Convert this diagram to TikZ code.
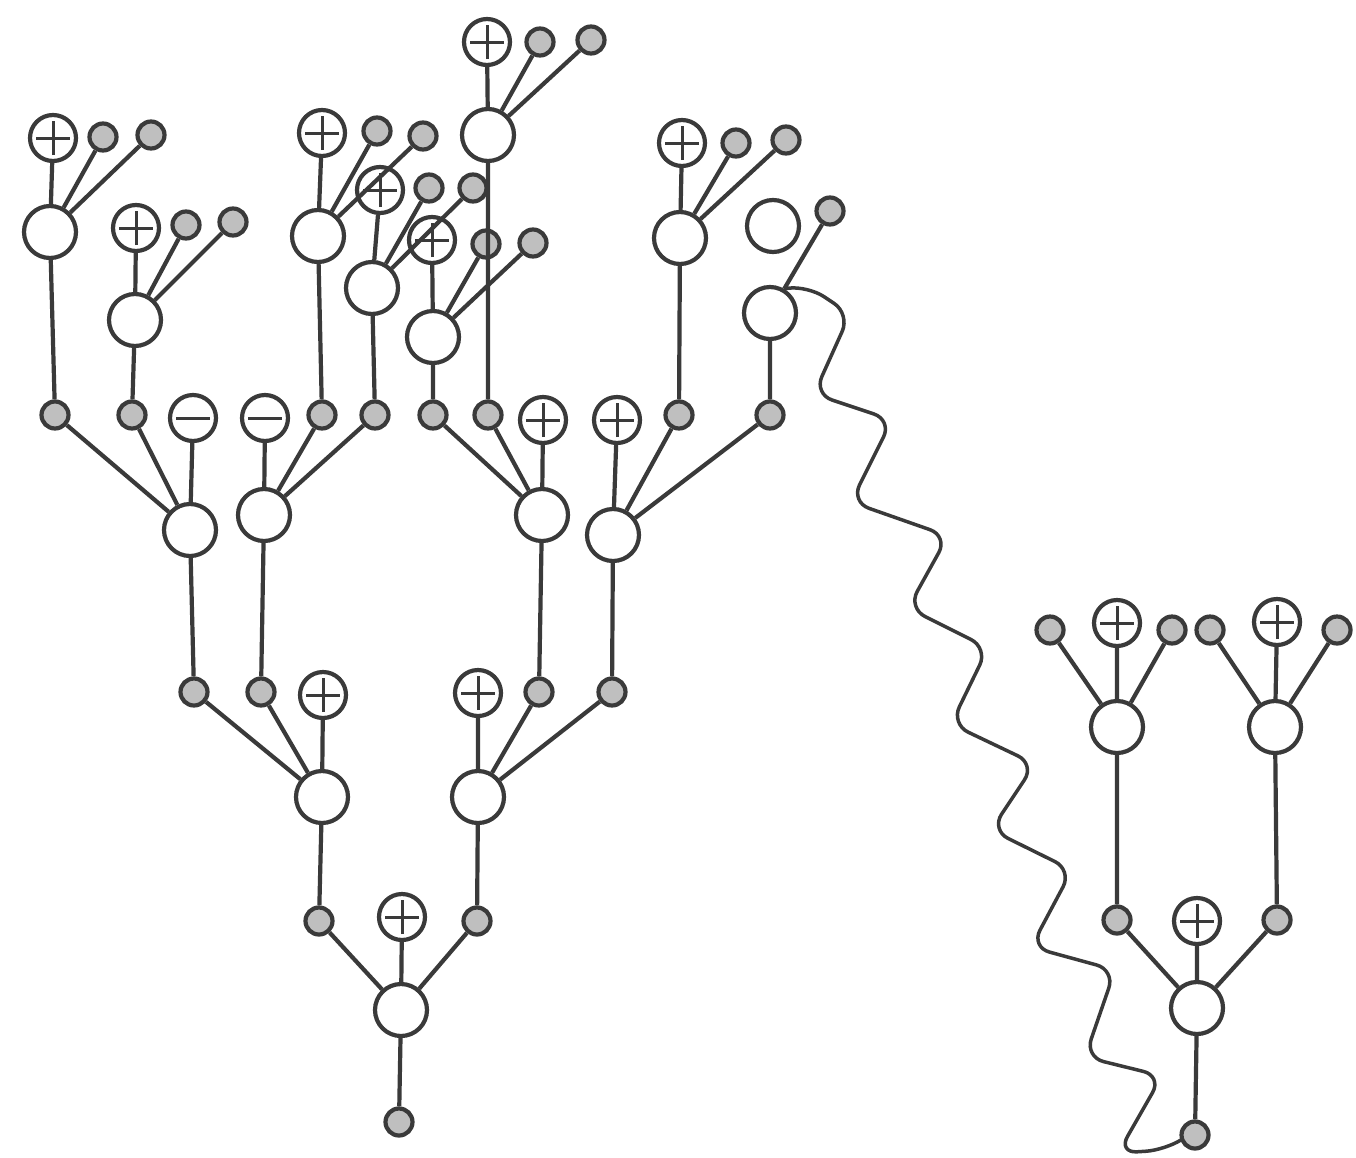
\documentclass[tikz,border=0pt]{standalone}
\definecolor{lc}{RGB}{58,58,58}
\begin{document}
\begin{tikzpicture}[x=1pt,y=-1pt,
  ln/.style={draw=lc,line width=4.2pt},
  bigc/.style={circle,draw=lc,fill=white,line width=4.2pt,minimum size=52pt,inner sep=0pt},
  smc/.style={circle,draw=lc,fill=black!25,line width=4.2pt,minimum size=27pt,inner sep=0pt},
  plc/.style={circle,draw=lc,fill=white,line width=4.2pt,minimum size=46pt,inner sep=0pt,
    path picture={\draw[lc,line width=3pt]
      ([xshift=-17pt]path picture bounding box.center) -- ([xshift=17pt]path picture bounding box.center)
      ([yshift=-17pt]path picture bounding box.center) -- ([yshift=17pt]path picture bounding box.center);}},
  mnc/.style={circle,draw=lc,fill=white,line width=4.2pt,minimum size=46pt,inner sep=0pt,
    path picture={\draw[lc,line width=3pt]
      ([xshift=-17pt]path picture bounding box.center) -- ([xshift=17pt]path picture bounding box.center);}},
  wave/.style={draw=lc,line width=3.5pt,rounded corners=19pt}]
\useasboundingbox (0,0) rectangle (1356,1157);

% ---------- top clusters (nodes) ----------
\foreach \n/\bx/\by/\px/\py/\ax/\ay/\cx/\cy in {
  B1/50/232/53/138/103/137/151/135,
  B2/135/320/136/228/186/225/233/222,
  B3/318/236/322/133/377/131/423/136,
  B4/372/288/380/190/429/188/473/188,
  B5/433/337/432/240/486/244/533/243,
  B6/488/135/487/42/540/42/591/40,
  B7/680/238/682/143/736/143/786/140}
{
  \node[plc] (\n p) at (\px,\py) {};
  \node[smc] (\n a) at (\ax,\ay) {};
  \node[smc] (\n b) at (\cx,\cy) {};
  \node[bigc] (\n) at (\bx,\by) {};
}
\node[bigc] (X1) at (773,226) {};
\node[smc] (X2) at (830,211) {};
\node[bigc] (B8) at (770,313) {};

% ---------- row at y = 415 ----------
\node[smc] (t1) at (55,415) {};
\node[smc] (t2) at (132,415) {};
\node[mnc] (m1) at (193,418) {};
\node[mnc] (m2) at (265,418) {};
\node[smc] (t3) at (322,415) {};
\node[smc] (t4) at (375,415) {};
\node[smc] (t5) at (433,415) {};
\node[smc] (t6) at (488,415) {};
\node[plc] (q1) at (543,420) {};
\node[plc] (q2) at (617,420) {};
\node[smc] (t7) at (679,415) {};
\node[smc] (t8) at (770,415) {};

\node[bigc] (b3) at (190,530) {};
\node[bigc] (b4) at (264,515) {};
\node[bigc] (b5) at (542,515) {};
\node[bigc] (b6) at (613,535) {};

% ---------- row at y = 692 ----------
\node[smc] (s1a) at (194,692) {};
\node[smc] (s1b) at (261,692) {};
\node[plc] (p1) at (323,695) {};
\node[plc] (p2) at (478,693) {};
\node[smc] (s2a) at (539,692) {};
\node[smc] (s2b) at (612,692) {};
\node[bigc] (b1) at (322,797) {};
\node[bigc] (b2) at (478,797) {};

% ---------- bottom ----------
\node[smc] (s0a) at (319,921) {};
\node[plc] (p0) at (402,917) {};
\node[smc] (s0b) at (477,921) {};
\node[bigc] (b0) at (401,1010) {};
\node[smc] (r0) at (399,1122) {};

% ---------- right tree ----------
\node[smc] (Rl) at (1050,630) {};
\node[plc] (Rlp) at (1117,623) {};
\node[smc] (Rlr) at (1172,630) {};
\node[bigc] (RBl) at (1117,727) {};
\node[smc] (Rrl) at (1210,630) {};
\node[plc] (Rrp) at (1277,622) {};
\node[smc] (Rrr) at (1337,630) {};
\node[bigc] (RBr) at (1275,727) {};
\node[smc] (Rs1) at (1117,920) {};
\node[plc] (RP) at (1197,921) {};
\node[smc] (Rs2) at (1277,920) {};
\node[bigc] (RB) at (1197,1008) {};
\node[smc] (R0) at (1195,1135) {};

% ---------- edges ----------
\foreach \n in {B1,B2,B3,B4,B5,B6,B7}
  \draw[ln] (\n) -- (\n p) (\n) -- (\n a) (\n) -- (\n b);
\draw[ln] (B8) -- (X2);
\draw[ln] (B1) -- (t1) (B2) -- (t2) (B3) -- (t3) (B4) -- (t4)
          (B5) -- (t5) (B6) -- (t6) (B7) -- (t7) (B8) -- (t8);
\draw[ln] (b3) -- (t1) (b3) -- (t2) (b3) -- (m1)
          (b4) -- (m2) (b4) -- (t3) (b4) -- (t4)
          (b5) -- (t5) (b5) -- (t6) (b5) -- (q1)
          (b6) -- (q2) (b6) -- (t7) (b6) -- (t8);
\draw[ln] (b3) -- (s1a) (b4) -- (s1b) (b5) -- (s2a) (b6) -- (s2b);
\draw[ln] (b1) -- (s1a) (b1) -- (s1b) (b1) -- (p1)
          (b2) -- (p2) (b2) -- (s2a) (b2) -- (s2b);
\draw[ln] (b1) -- (s0a) (b2) -- (s0b)
          (b0) -- (s0a) (b0) -- (p0) (b0) -- (s0b) (b0) -- (r0);
\draw[ln] (RBl) -- (Rl) (RBl) -- (Rlp) (RBl) -- (Rlr)
          (RBr) -- (Rrl) (RBr) -- (Rrp) (RBr) -- (Rrr)
          (RBl) -- (Rs1) (RBr) -- (Rs2)
          (RB) -- (Rs1) (RB) -- (RP) (RB) -- (Rs2) (RB) -- (R0);

% ---------- wavy connector ----------
\draw[wave] (B8.60) -- (808,286) -- (850,314) -- (814,394) -- (892,420)
  -- (851,502) -- (948,536) -- (908,608) -- (988,648) -- (951,724)
  -- (1035,764) -- (991,830) -- (1072,870) -- (1031,947) -- (1115,970)
  -- (1085,1057) -- (1162,1076) -- (1118,1153) -- (1165,1150) -- (R0.200);
\end{tikzpicture}
\end{document}
